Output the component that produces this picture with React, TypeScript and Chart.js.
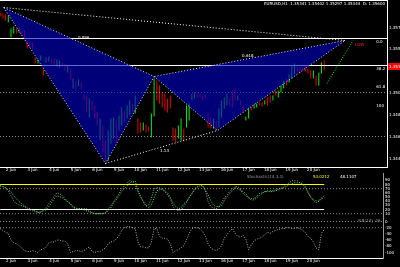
import React, { useEffect, useRef } from "react";
import { Chart, registerables } from "chart.js";
Chart.register(...registerables);

// ---------- data ----------
const highs = [
  1.3588, 1.3587, 1.3586, 1.3585, 1.3572, 1.3574, 1.3572, 1.3573, 1.3571, 1.357,
  1.356, 1.3559, 1.3558, 1.3543, 1.3541, 1.3545, 1.3531, 1.3543, 1.3544, 1.3542,
  1.3542, 1.3541, 1.354, 1.3538, 1.3537, 1.3535, 1.3532, 1.3522, 1.352, 1.3521,
  1.3518, 1.3506, 1.3505, 1.3502, 1.35, 1.3495, 1.3488, 1.3482, 1.3475, 1.346,
  1.347, 1.3482, 1.3483, 1.348, 1.3485, 1.3493, 1.349, 1.3495, 1.35, 1.3497,
  1.3505, 1.3482, 1.3478, 1.3478, 1.3476, 1.3474, 1.3487, 1.3522, 1.352, 1.3515,
  1.3508, 1.3507, 1.3502, 1.3505, 1.3473, 1.3472, 1.3475, 1.3482, 1.3472, 1.3495,
  1.3497, 1.3507, 1.3508, 1.3508, 1.3507, 1.3505, 1.3506, 1.3488, 1.3483, 1.3482,
  1.348, 1.3492, 1.35, 1.3503, 1.3507, 1.3502, 1.351, 1.3512, 1.3505, 1.35,
  1.3495, 1.3484, 1.3493, 1.3494, 1.3497, 1.3497, 1.3498, 1.3498, 1.35, 1.3503,
  1.3505, 1.3505, 1.351, 1.351, 1.3515, 1.352, 1.3522, 1.3526, 1.3535, 1.3537,
  1.3534, 1.3533, 1.3533, 1.3534, 1.3532, 1.353, 1.353, 1.3525, 1.3528, 1.3538,
  1.354,
];
const lows = [
  1.3584, 1.3582, 1.358, 1.3578, 1.3563, 1.3567, 1.3567, 1.3568, 1.3566, 1.3563,
  1.3552, 1.3553, 1.3551, 1.3537, 1.3537, 1.354, 1.3525, 1.3538, 1.3539, 1.3537,
  1.3535, 1.3534, 1.3533, 1.3534, 1.353, 1.3528, 1.352, 1.3512, 1.351, 1.3514,
  1.3511, 1.35, 1.3488, 1.3483, 1.349, 1.3482, 1.3475, 1.346, 1.3448, 1.3437,
  1.344, 1.3457, 1.3462, 1.3458, 1.347, 1.3475, 1.3478, 1.3482, 1.3485, 1.3488,
  1.3487, 1.3467, 1.3468, 1.347, 1.3468, 1.3469, 1.3463, 1.3484, 1.35, 1.3497,
  1.3493, 1.349, 1.3488, 1.3492, 1.346, 1.3458, 1.3462, 1.346, 1.3459, 1.3473,
  1.348, 1.35, 1.3502, 1.3503, 1.3503, 1.35, 1.3502, 1.3473, 1.3472, 1.3472,
  1.347, 1.3473, 1.3483, 1.3492, 1.3495, 1.3494, 1.3493, 1.35, 1.35, 1.3495,
  1.3488, 1.348, 1.3482, 1.349, 1.3492, 1.3493, 1.3495, 1.3494, 1.3496, 1.3495,
  1.3498, 1.35, 1.3505, 1.3503, 1.3508, 1.3512, 1.3515, 1.3518, 1.3522, 1.3526,
  1.3528, 1.3527, 1.353, 1.3529, 1.3527, 1.3522, 1.3522, 1.3515, 1.3515, 1.3527,
  1.353,
];
const bullish = [
  0, 0, 0, 1, 1, 1, 0, 1, 0, 0,
  0, 0, 0, 0, 1, 1, 0, 1, 1, 0,
  0, 1, 1, 0, 0, 1, 0, 1, 0, 1,
  0, 0, 0, 1, 0, 0, 0, 1, 0, 0,
  1, 1, 1, 0, 1, 1, 0, 1, 1, 0,
  1, 0, 0, 1, 0, 0, 1, 1, 0, 0,
  0, 0, 0, 0, 0, 0, 1, 1, 0, 1,
  1, 1, 1, 0, 0, 0, 0, 0, 0, 1,
  0, 1, 1, 1, 1, 0, 0, 0, 1, 0,
  0, 1, 1, 0, 1, 1, 0, 0, 1, 0,
  0, 1, 0, 1, 1, 1, 0, 1, 1, 1,
  0, 0, 0, 0, 0, 0, 1, 0, 1, 1,
  0,
];
const stochMain = [
  77, 75, 72, 65, 53, 41, 34, 31, 29, 27,
  22, 19, 17, 14, 14, 14, 19, 24, 34, 43,
  51, 60, 58, 53, 46, 39, 34, 24, 22, 22,
  22, 22, 22, 17, 12, 10, 10, 10, 10, 12,
  22, 29, 39, 48, 58, 70, 77, 84, 89, 87,
  80, 65, 51, 39, 29, 31, 46, 70, 72, 72,
  67, 63, 55, 46, 27, 19, 17, 19, 27, 36,
  51, 58, 70, 75, 80, 77, 65, 39, 27, 24,
  22, 27, 36, 48, 55, 63, 70, 75, 75, 67,
  58, 53, 48, 43, 43, 48, 53, 58, 63, 65,
  65, 65, 67, 70, 72, 75, 80, 84, 89, 89,
  89, 84, 82, 75, 63, 48, 41, 36, 41, 48,
  53,
];
const stochSignal = [
  77, 75, 72, 67, 63, 53, 46, 39, 34, 29,
  24, 22, 19, 17, 12, 14, 17, 19, 27, 36,
  46, 53, 51, 48, 43, 39, 34, 27, 24, 22,
  22, 19, 17, 14, 12, 10, 10, 10, 10, 12,
  17, 24, 36, 43, 53, 63, 70, 77, 84, 87,
  89, 65, 51, 39, 29, 24, 31, 48, 65, 67,
  70, 65, 60, 48, 36, 27, 22, 24, 34, 39,
  48, 58, 67, 72, 77, 77, 67, 55, 41, 31,
  27, 27, 29, 41, 51, 58, 65, 72, 70, 67,
  63, 58, 48, 46, 46, 51, 58, 60, 63, 63,
  63, 63, 65, 67, 70, 72, 75, 80, 82, 84,
  84, 84, 80, 72, 60, 51, 43, 41, 39, 46,
  48,
];
const williamsR = [
  -23, -29, -35, -38, -60, -69, -72, -78, -85, -94,
  -97, -97, -94, -97, -100, -91, -88, -82, -69, -66,
  -66, -60, -60, -63, -63, -72, -100, -97, -94, -94,
  -97, -94, -88, -82, -97, -100, -97, -97, -91, -85,
  -72, -66, -63, -57, -45, -29, -20, -17, -17, -20,
  -23, -66, -82, -82, -85, -85, -66, -23, -23, -48,
  -54, -54, -57, -72, -100, -94, -91, -85, -78, -60,
  -38, -23, -20, -20, -23, -32, -48, -72, -85, -91,
  -94, -88, -78, -54, -42, -32, -23, -38, -48, -51,
  -45, -57, -91, -75, -63, -57, -54, -51, -42, -35,
  -38, -32, -29, -26, -23, -23, -20, -20, -23, -23,
  -20, -23, -29, -35, -48, -54, -66, -85, -91, -38,
  -26,
];

const timeTickIndex = [4, 12, 20, 28, 36, 44, 52, 60, 68, 76, 84, 92, 100, 108, 116];
const timeLabels = ["2 Jun", "3 Jun", "4 Jun", "5 Jun", "6 Jun", "9 Jun", "10 Jun", "11 Jun", "12 Jun", "13 Jun", "16 Jun", "17 Jun", "18 Jun", "19 Jun", "20 Jun"];
const priceTicks = [1.3573, 1.3552, 1.3508, 1.3486, 1.3464, 1.3442];
const stochTicks = [90, 80, 70, 60, 50, 40, 30, 20, 10];
const wprTicks = [0, -20, -40, -60, -80, -100];

const solidLevels = [1.3562, 1.3535];
const dottedLevels = [1.3508, 1.3464];
const patternIdx = [1.3, 39, 57, 80.5, 127.7]; // X A B C D
const patternPrice = [1.3593, 1.3437, 1.3524, 1.347, 1.356];
const projIdx = [121, 130.7];
const projPrice = [1.3517, 1.356];
const currentPrice = 1.3534;

const noteIdx = [28.8, 89.6, 131.4, 59.2, 139.3, 139.3, 139.3, 139.3];
const notePrice = [1.3563, 1.3545, 1.3556, 1.345, 1.35585, 1.35315, 1.3514, 1.3495];
const noteText = ["0.886", "0.618", "LOW", "1.13", "0.0", "38.2", "61.8", "100"];
const noteColor = ["#ffffff", "#ffffff", "#ff2020", "#ffffff", "#ffffff", "#ffffff", "#ffffff", "#ffffff"];

const stochSolidLevels = [80, 20];
const stochDottedLevels = [70, 10];
const wprLevels = [0, -20];

const titleText = "EURUSD,H1  1.35341 1.35402 1.35297 1.35344  D: 1.35600";
const stochTitle = ["Stochastic(14,3,3)", "53.0212", "48.1107"];
const wprTitle = "%R(14) -26";

// ---------- layout constants ----------
const FONT = "DejaVu Sans";
const X_MIN = -0.07;
const PX_PER_BAR = 2.7;
const MAIN_W = 387;
const SUB_W = 383;
const PRICE_MAX = 1.35995;
const PRICE_MIN = PRICE_MAX - 0.0166;
const PATTERN_FILL = "rgba(0,0,200,0.6)";

const pts = (xs: number[], ys: number[]) => xs.map((x, i) => ({ x, y: ys[i] }));
const series = (vals: number[]) => vals.map((v, i) => ({ x: i, y: v }));

function lineDs(data: any[], color: string, dash: number[], order: number, extra: any = {}) {
  return {
    type: "line",
    data,
    borderColor: color,
    borderWidth: 1,
    borderDash: dash,
    borderCapStyle: "butt",
    pointRadius: 0,
    pointHoverRadius: 0,
    tension: 0,
    fill: false,
    order,
    ...extra,
  };
}

const zeroPad = (s: any) => {
  s.paddingTop = 0;
  s.paddingBottom = 0;
  s.paddingLeft = 0;
  s.paddingRight = 0;
};

const tickFont = { family: FONT, size: 4 };

function xScale(max: number, display: boolean, h: number) {
  return {
    type: "linear",
    min: X_MIN,
    max,
    offset: false,
    display,
    grid: { display: false, drawTicks: false },
    border: { display: true, color: "#ffffff", width: 1 },
    ticks: {
      color: "#ffffff",
      font: tickFont,
      padding: 1,
      autoSkip: false,
      maxRotation: 0,
      minRotation: 0,
      callback: (v: any) => {
        const k = timeTickIndex.indexOf(Number(v));
        return k >= 0 ? timeLabels[k] : "";
      },
    },
    afterBuildTicks: (s: any) => {
      s.ticks = timeTickIndex.map((v) => ({ value: v }));
    },
    afterFit: (s: any) => {
      s.height = h;
      zeroPad(s);
    },
  };
}

function yScale(min: number, max: number, ticks: number[], w: number, borderColor: string, fmt: (v: number) => string) {
  return {
    type: "linear",
    position: "right",
    min,
    max,
    grid: { display: false, drawTicks: false },
    border: { display: true, color: borderColor, width: 1 },
    ticks: {
      color: "#ffffff",
      font: tickFont,
      padding: 2,
      autoSkip: false,
      callback: (v: any) => fmt(Number(v)),
    },
    afterBuildTicks: (s: any) => {
      s.ticks = ticks.map((v) => ({ value: v }));
    },
    afterFit: (s: any) => {
      s.width = w;
      zeroPad(s);
    },
  };
}

const common = {
  responsive: false,
  maintainAspectRatio: false,
  animation: false,
  devicePixelRatio: 1,
  events: [],
  plugins: { legend: { display: false }, tooltip: { enabled: false } },
};

function mainConfig() {
  const xMax = X_MIN + MAIN_W / PX_PER_BAR;
  const P = pts(patternIdx, patternPrice);
  const candleColors = bullish.map((b) => (b ? "#00ee00" : "#ee0000"));
  const datasets: any[] = [
    {
      type: "bar",
      data: highs.map((h, i) => ({ x: i, y: [lows[i], h] })),
      backgroundColor: candleColors,
      borderWidth: 0,
      barThickness: 1,
      inflateAmount: 0,
      grouped: false,
      order: 6,
    },
    ...solidLevels.map((v) => lineDs([{ x: X_MIN, y: v }, { x: xMax, y: v }], "#ffffff", [], 5)),
    ...dottedLevels.map((v) => lineDs([{ x: X_MIN, y: v }, { x: xMax, y: v }], "#8c8c8c", [1, 2], 5)),
    lineDs([P[0], P[1], P[2], P[0]], "rgba(235,235,255,0.95)", [1, 2], 2, {
      fill: "shape",
      backgroundColor: PATTERN_FILL,
    }),
    lineDs([P[2], P[3], P[4], P[2]], "rgba(235,235,255,0.95)", [1, 2], 2, {
      fill: "shape",
      backgroundColor: PATTERN_FILL,
    }),
    lineDs([P[0], P[4]], "#ffffff", [1, 2], 1),
    lineDs([P[1], P[3]], "#ffffff", [1, 2], 1),
    lineDs(pts(projIdx, projPrice), "#00ff00", [1, 1.5], 1),
  ];
  const plugin = {
    id: "mainDecor",
    afterDatasetsDraw(chart: any) {
      const { ctx, scales } = chart;
      ctx.save();
      ctx.font = `4px "${FONT}"`;
      ctx.textBaseline = "middle";
      ctx.textAlign = "left";
      noteIdx.forEach((v, k) => {
        ctx.fillStyle = noteColor[k];
        ctx.fillText(noteText[k], scales.x.getPixelForValue(v), scales.y.getPixelForValue(notePrice[k]));
      });
      ctx.restore();
    },
    afterDraw(chart: any) {
      const { ctx, chartArea, scales } = chart;
      ctx.save();
      ctx.fillStyle = "#ffffff";
      ctx.fillRect(0, 0, chartArea.right + 1, 1);
      const py = scales.y.getPixelForValue(currentPrice);
      ctx.fillStyle = "#ff0000";
      ctx.fillRect(chartArea.right + 1, py - 3.5, 12, 7);
      ctx.fillStyle = "#ffffff";
      ctx.font = `4px "${FONT}"`;
      ctx.textBaseline = "middle";
      ctx.textAlign = "left";
      ctx.fillText(currentPrice.toFixed(4), chartArea.right + 2, py);
      ctx.textAlign = "right";
      ctx.fillText(titleText, chartArea.right - 2, 4);
      ctx.restore();
    },
  };
  return {
    type: "line",
    data: { datasets },
    options: {
      ...common,
      layout: { padding: { top: 1, left: 0, right: 0, bottom: 0 } },
      scales: {
        x: xScale(xMax, true, 6),
        y: yScale(PRICE_MIN, PRICE_MAX, priceTicks, 13, "#ffffff", (v) => v.toFixed(4)),
      },
    },
    plugins: [plugin],
  };
}

function stochConfig() {
  const xMax = X_MIN + SUB_W / PX_PER_BAR;
  const lastIdx = stochMain.length - 1;
  const levelColors = ["#ffff00", "#ffffff"];
  const datasets: any[] = [
    ...stochSolidLevels.map((v, k) => lineDs([{ x: 0, y: v }, { x: lastIdx, y: v }], levelColors[k], [], 4)),
    ...stochDottedLevels.map((v) => lineDs([{ x: X_MIN, y: v }, { x: xMax, y: v }], "#8c8c8c", [1, 2], 4)),
    lineDs(series(stochMain), "#a8a8a8", [1, 1.5], 2),
    lineDs(series(stochSignal), "#40ff40", [1, 1.5], 1),
  ];
  const plugin = {
    id: "stochDecor",
    afterDraw(chart: any) {
      const { ctx } = chart;
      ctx.save();
      ctx.font = `4px "${FONT}"`;
      ctx.textBaseline = "middle";
      ctx.textAlign = "left";
      ctx.fillStyle = "#9a9a9a";
      ctx.fillText(stochTitle[0], 247, 4);
      ctx.fillStyle = "#ffff00";
      ctx.fillText(stochTitle[1], 313, 4);
      ctx.fillStyle = "#ffffff";
      ctx.fillText(stochTitle[2], 340, 4);
      ctx.restore();
    },
  };
  return {
    type: "line",
    data: { datasets },
    options: {
      ...common,
      layout: { padding: { top: 0, left: 0, right: 0, bottom: 1 } },
      scales: {
        x: xScale(xMax, false, 0),
        y: yScale(2.0, 107.6, stochTicks, 17, "#9a9a9a", (v) => v.toFixed(0)),
      },
    },
    plugins: [plugin],
  };
}

function wprConfig() {
  const xMax = X_MIN + SUB_W / PX_PER_BAR;
  const datasets: any[] = [
    ...wprLevels.map((v) => lineDs([{ x: X_MIN, y: v }, { x: xMax, y: v }], "#8c8c8c", [1, 2], 4)),
    lineDs(series(williamsR), "#b4b4b4", [1, 1.5], 1),
  ];
  const plugin = {
    id: "wprDecor",
    afterDraw(chart: any) {
      const { ctx } = chart;
      ctx.save();
      ctx.font = `4px "${FONT}"`;
      ctx.textBaseline = "middle";
      ctx.textAlign = "left";
      ctx.fillStyle = "#9a9a9a";
      ctx.fillText(wprTitle, 358, 2.5);
      ctx.restore();
    },
  };
  return {
    type: "line",
    data: { datasets },
    options: {
      ...common,
      layout: { padding: { top: 0, left: 0, right: 0, bottom: 0 } },
      scales: {
        x: xScale(xMax, true, 9),
        y: yScale(-117.74, 11.29, wprTicks, 17, "#9a9a9a", (v) => v.toFixed(0)),
      },
    },
    plugins: [plugin],
  };
}

function Panel({ top, height, build }: { top: number; height: number; build: () => any }) {
  const ref = useRef<HTMLCanvasElement>(null);
  useEffect(() => {
    if (!ref.current) return;
    const chart = new Chart(ref.current, build());
    return () => chart.destroy();
  }, []);
  return (
    <canvas
      ref={ref}
      width={400}
      height={height}
      style={{ position: "absolute", left: 0, top, width: 400, height, display: "block" }}
    />
  );
}

export default function App() {
  return (
    <div
      style={{
        position: "fixed",
        left: 0,
        top: 0,
        width: 400,
        height: 267,
        background: "#000000",
        overflow: "hidden",
      }}
    >
      <Panel top={0} height={173} build={mainConfig} />
      <Panel top={173} height={45} build={stochConfig} />
      <Panel top={218} height={49} build={wprConfig} />
    </div>
  );
}
